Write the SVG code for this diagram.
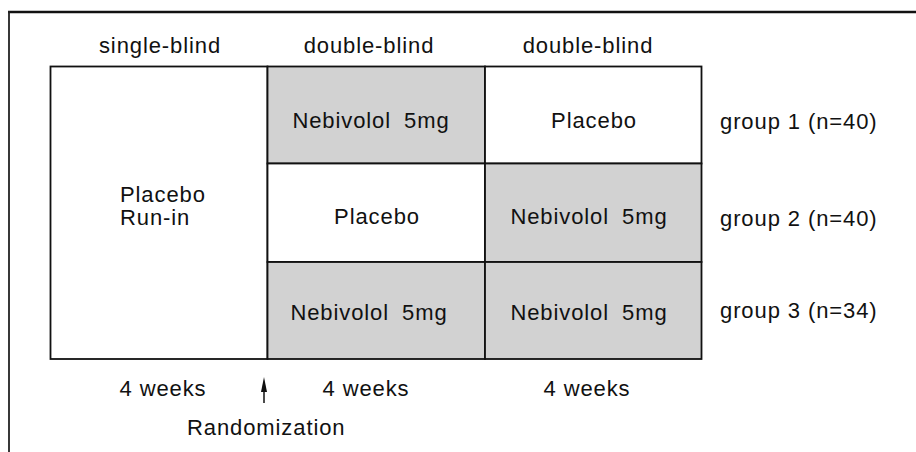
<svg xmlns="http://www.w3.org/2000/svg" width="916" height="452" viewBox="0 0 916 452">
<style>
text{font-family:"Liberation Sans",Arial,sans-serif;font-size:22px;fill:#111;letter-spacing:0.9px}
.c{text-anchor:middle}
.cell{stroke:#111;stroke-width:1.8}
.w{fill:#fff}
.g{fill:#d2d2d2}
.neb{word-spacing:6px}
</style>
<g id="frame">
<line x1="8" y1="12" x2="916" y2="12" stroke="#111" stroke-width="2.5"/>
<line x1="9" y1="11" x2="9" y2="452" stroke="#222" stroke-width="1.8"/>
</g>
<g id="headers">
<text class="c" x="160" y="53">single-blind</text>
<text class="c" x="369" y="53">double-blind</text>
<text class="c" x="588" y="53">double-blind</text>
</g>
<g id="runin">
<rect class="cell w" x="50.5" y="66.5" width="217" height="292.5"/>
<text x="120" y="202">Placebo</text>
<text x="120" y="225">Run-in</text>
</g>
<g id="g1p1">
<rect class="cell g" x="267.5" y="66.5" width="217.5" height="97"/>
<text class="c neb" x="371" y="128">Nebivolol 5mg</text>
</g>
<g id="g1p2">
<rect class="cell w" x="485" y="66.5" width="216.5" height="97"/>
<text class="c" x="594" y="128">Placebo</text>
</g>
<g id="g2p1">
<rect class="cell w" x="267.5" y="163.5" width="217.5" height="98.5"/>
<text class="c" x="377" y="224">Placebo</text>
</g>
<g id="g2p2">
<rect class="cell g" x="485" y="163.5" width="216.5" height="98.5"/>
<text class="c neb" x="589" y="224">Nebivolol 5mg</text>
</g>
<g id="g3p1">
<rect class="cell g" x="267.5" y="262" width="217.5" height="97"/>
<text class="c neb" x="369" y="320">Nebivolol 5mg</text>
</g>
<g id="g3p2">
<rect class="cell g" x="485" y="262" width="216.5" height="97"/>
<text class="c neb" x="589" y="320">Nebivolol 5mg</text>
</g>
<g id="groups">
<text x="720" y="129">group 1 (n=40)</text>
<text x="720" y="226">group 2 (n=40)</text>
<text x="720" y="318">group 3 (n=34)</text>
</g>
<g id="durations">
<text class="c" x="163" y="396">4 weeks</text>
<text class="c" x="366" y="396">4 weeks</text>
<text class="c" x="587" y="396">4 weeks</text>
</g>
<g id="randomization">
<text x="187" y="435">Randomization</text>
</g>
<g id="connectors">
<line x1="264" y1="403" x2="264" y2="388" stroke="#111" stroke-width="1.5"/>
<polygon points="264,377 261,392 267,392" fill="#111"/>
</g>
</svg>
